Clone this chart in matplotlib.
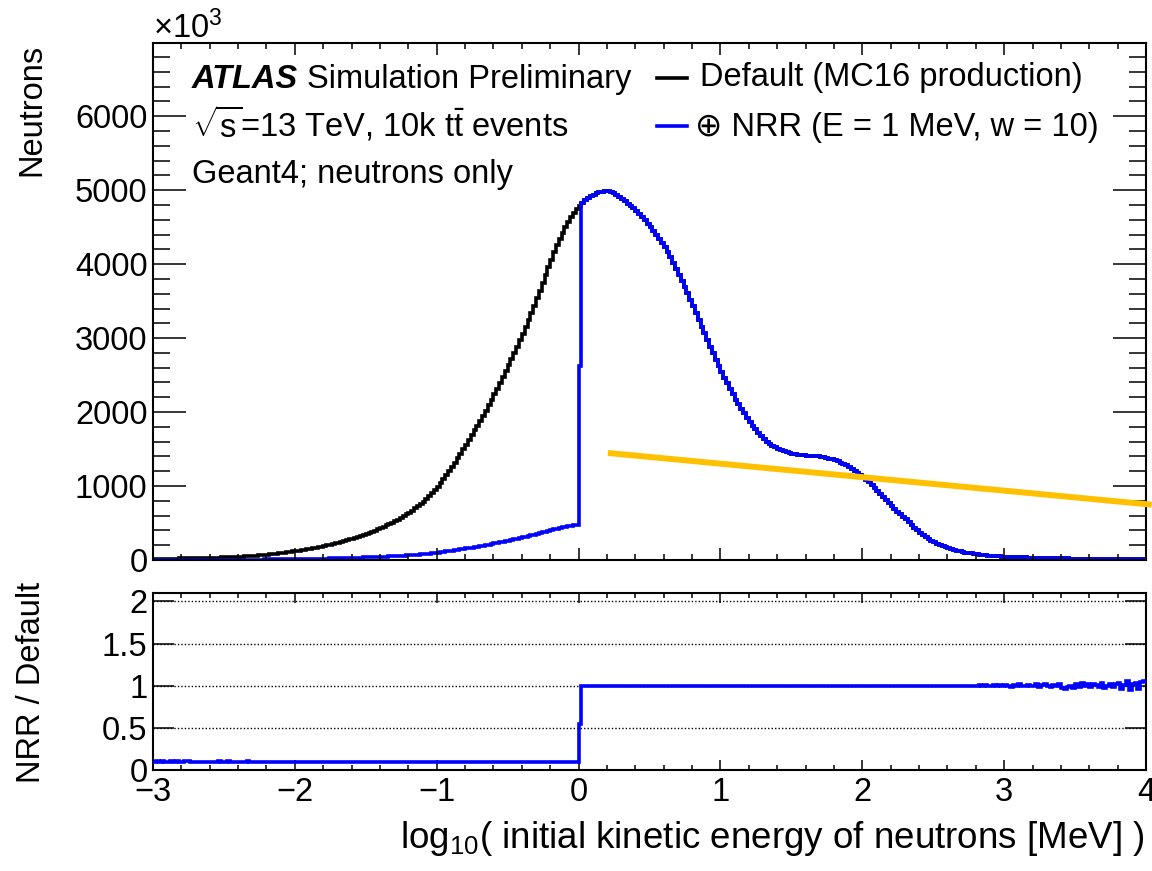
import numpy as np
import matplotlib
matplotlib.use("Agg")
import matplotlib.pyplot as plt
from matplotlib.ticker import MultipleLocator

plt.rcParams["font.family"] = ["Liberation Sans", "DejaVu Sans"]
plt.rcParams["mathtext.fontset"] = "custom"
plt.rcParams["mathtext.rm"] = "Liberation Sans"
plt.rcParams["mathtext.it"] = "Liberation Sans:italic"
plt.rcParams["mathtext.bf"] = "Liberation Sans:bold"

# binning: log10(E/MeV) from -3 to 4, 0.02 wide bins
x_lo, x_hi, n_bins = -3.0, 4.0, 350

# Default (MC16 production), counts in units of 10^3, one row per 0.2 in x
default_counts = [
    15, 15.6, 16.2, 16.8, 17.4, 18, 18.6, 19.2, 19.8, 20.4,
    21, 21.8, 22.6, 23.4, 24.2, 25, 26, 27, 28, 29,
    30, 31.2, 32.4, 33.6, 34.8, 36, 37.6, 39.2, 40.8, 42.4,
    44, 46.5, 49, 51.5, 54, 57, 60, 63.5, 67, 70.5,
    74, 78, 82, 86, 90.5, 95, 100, 105, 110, 115,
    120, 126, 132, 139, 145, 152, 159, 167, 174, 182,
    190, 199, 208, 217, 226, 236, 246, 257, 268, 279,
    290, 302, 315, 328, 341, 354, 368, 383, 398, 414,
    430, 448, 467, 486, 505, 525, 547, 569, 592, 616,
    640, 668, 697, 727, 758, 790, 826, 863, 903, 945,
    990, 1040, 1092, 1147, 1203, 1260, 1318, 1378, 1438, 1499,
    1560, 1623, 1687, 1751, 1815, 1880, 1950, 2021, 2094, 2167,
    2240, 2316, 2393, 2471, 2550, 2630, 2712, 2796, 2882, 2970,
    3060, 3152, 3246, 3342, 3440, 3540, 3643, 3747, 3851, 3956,
    4060, 4160, 4253, 4340, 4422, 4500, 4572, 4638, 4697, 4746,
    4790, 4830, 4866, 4896, 4920, 4940, 4956, 4970, 4980, 4987,
    4990, 4982, 4962, 4940, 4912, 4880, 4850, 4818, 4787, 4754,
    4720, 4680, 4638, 4594, 4548, 4500, 4450, 4398, 4344, 4288,
    4230, 4161, 4090, 4015, 3938, 3860, 3778, 3693, 3606, 3518,
    3430, 3340, 3249, 3156, 3063, 2970, 2882, 2795, 2709, 2624,
    2540, 2462, 2387, 2313, 2241, 2170, 2106, 2044, 1984, 1926,
    1870, 1818, 1768, 1720, 1674, 1630, 1601, 1573, 1548, 1525,
    1505, 1488, 1472, 1458, 1446, 1435, 1428, 1421, 1416, 1413,
    1410, 1408, 1406, 1404, 1401, 1398, 1391, 1382, 1372, 1361,
    1350, 1335, 1318, 1299, 1280, 1260, 1236, 1209, 1181, 1151,
    1120, 1086, 1050, 1012, 974, 935, 895, 854, 813, 771,
    730, 692, 655, 619, 584, 550, 512, 475, 439, 404,
    370, 340, 312, 286, 262, 240, 222, 206, 190, 176,
    162, 150, 139, 128, 118, 108, 101, 94, 88, 82,
    77, 73, 68, 64, 60, 57, 54.5, 52, 49.5, 47,
    45, 43.4, 41.8, 40.2, 38.6, 37, 35.8, 34.6, 33.4, 32.2,
    31, 30, 29, 28, 27, 26, 25.2, 24.4, 23.6, 22.8,
    22, 21.4, 20.8, 20.2, 19.6, 19, 18.5, 18, 17.5, 17,
    16.5, 16.1, 15.7, 15.3, 14.9, 14.5, 14.1, 13.7, 13.3, 12.9,
    12.5, 12.2, 11.9, 11.6, 11.3, 11, 10.7, 10.4, 10.1, 9.8,
]

# NRR (E = 1 MeV, w = 10): bins below 0 (x from -3 to 0)
nrr_below = [
    1.5, 1.6, 1.6, 1.7, 1.7, 1.8, 1.9, 1.9, 2.0, 2.0,
    2.1, 2.2, 2.3, 2.3, 2.4, 2.5, 2.6, 2.7, 2.8, 2.9,
    3.0, 3.1, 3.2, 3.4, 3.5, 3.6, 3.8, 3.9, 4.1, 4.2,
    4.4, 4.6, 4.9, 5.2, 5.4, 5.7, 6.0, 6.4, 6.7, 7.1,
    7.4, 7.8, 8.2, 8.6, 9.1, 9.5, 10.0, 10.5, 11.0, 11.5,
    12.0, 12.6, 13.2, 13.9, 14.5, 15.2, 15.9, 16.7, 17.4, 18.2,
    19.0, 19.9, 20.8, 21.7, 22.6, 23.6, 24.6, 25.7, 26.8, 27.9,
    29.0, 30.2, 31.5, 32.8, 34.1, 35.4, 36.8, 38.3, 39.8, 41.4,
    43.0, 44.8, 46.7, 48.6, 50.5, 52.5, 54.7, 56.9, 59.2, 61.6,
    64.0, 66.8, 69.7, 72.7, 75.8, 79.0, 82.6, 86.3, 90.3, 94.5,
    99, 104, 109, 115, 120, 126, 132, 138, 144, 150,
    156, 162, 169, 175, 182, 188, 195, 202, 209, 217,
    224, 232, 239, 247, 255, 263, 271, 280, 288, 297,
    306, 315, 325, 334, 344, 354, 364, 375, 385, 396,
    406, 416, 425, 434, 442, 450, 457, 464, 470, 475,
]
# first bin above threshold
nrr_first = 2619
# high-energy tail, x from 2.8 to 4
nrr_tail = [
    77, 73.4, 68, 64.6, 60, 56.7, 54.8, 52, 50.0, 47,
    45.2, 43.4, 41.4, 40.6, 38.6, 37.6, 35.6, 34.6, 33.7, 31.9,
    31, 30.45, 28.7, 28.15, 27.55, 26, 24.8, 24.65, 23.6, 23.25,
    21.45, 20.55, 20.5, 20.2, 19.0, 19.3, 18.3, 18.55, 17.5, 17.35,
    16.2, 16.4, 15.85, 15.15, 15.35, 14.05, 14.1, 13.9, 13.05, 13.2,
    12.9, 11.7, 12.0, 12.2, 10.75, 11.2, 11.1, 10.0, 10.6, 10.4,
]

orange_x = [0.207, 4.04]
orange_y = [1447, 748]

BLUE = "#0000ff"
ORANGE = "#ffc000"
FS = 23.5
LW = 2.6

edges = np.linspace(x_lo, x_hi, n_bins + 1)
default = np.array(default_counts, dtype=float)
nrr = np.concatenate([nrr_below, [nrr_first], default[151:290], nrr_tail])
ratio = nrr / default

W, H = 1152, 871
fig = plt.figure(figsize=(W / 100, H / 100), dpi=100)
ax = fig.add_axes([153 / W, 1 - 560 / H, 993 / W, 517 / H])
rax = fig.add_axes([153 / W, 1 - 770 / H, 993 / W, 177 / H])

# main panel
ax.stairs(default, edges, color="k", lw=LW, baseline=None)
ax.stairs(nrr, edges, color=BLUE, lw=LW, baseline=None)
ax.plot(orange_x, orange_y, color=ORANGE, lw=4.3, clip_on=False,
        solid_capstyle="butt", zorder=5)
ax.set_xlim(x_lo, x_hi)
ax.set_ylim(0, 6990)
ax.xaxis.set_major_locator(MultipleLocator(1))
ax.xaxis.set_minor_locator(MultipleLocator(0.2))
ax.yaxis.set_major_locator(MultipleLocator(1000))
ax.yaxis.set_minor_locator(MultipleLocator(200))
ax.tick_params(which="both", direction="in", top=True, right=True, width=1.1)
ax.tick_params(axis="x", which="major", length=8.6, labelbottom=False)
ax.tick_params(axis="x", which="minor", length=4.3)
ax.tick_params(axis="y", which="major", length=24, labelsize=FS, pad=4)
ax.tick_params(axis="y", which="minor", length=12)

ax.text(0.039, 0.9124, "ATLAS", transform=ax.transAxes, fontsize=FS,
        fontweight="bold", fontstyle="italic", va="baseline")
ax.text(0.155, 0.9124, "Simulation Preliminary", transform=ax.transAxes,
        fontsize=FS, va="baseline")
ax.text(0.039, 0.8188, r"$\sqrt{\mathrm{s}}$=13 TeV, 10k $\mathrm{t\bar{t}}$ events",
        transform=ax.transAxes, fontsize=FS, va="baseline")
ax.text(0.039, 0.7286, "Geant4; neutrons only", transform=ax.transAxes,
        fontsize=FS, va="baseline")

# legend
ax.plot([0.5071, 0.5373], [0.9329, 0.9329], color="k", lw=LW,
        transform=ax.transAxes, clip_on=False)
ax.plot([0.5071, 0.5373], [0.8395, 0.8395], color=BLUE, lw=LW,
        transform=ax.transAxes, clip_on=False)
ax.text(0.551, 0.9168, "Default (MC16 production)", transform=ax.transAxes,
        fontsize=FS, va="baseline")
ax.text(0.546, 0.8201, "\u2295 NRR (E = 1 MeV, w = 10)", transform=ax.transAxes,
        fontsize=FS, va="baseline")

# ratio panel
for yg in (0.5, 1.0, 1.5, 2.0):
    rax.axhline(yg, color="k", lw=1.0, ls=(0, (1, 1.5)), zorder=1)
rax.stairs(ratio, edges, color=BLUE, lw=LW, baseline=None, zorder=3)
rax.set_xlim(x_lo, x_hi)
rax.set_ylim(0, 2.1)
rax.xaxis.set_major_locator(MultipleLocator(1))
rax.xaxis.set_minor_locator(MultipleLocator(0.2))
rax.set_yticks([0, 0.5, 1, 1.5, 2], ["0", "0.5", "1", "1.5", "2"])
rax.tick_params(which="both", direction="in", top=True, right=True, width=1.1)
rax.tick_params(axis="x", which="major", length=7, labelsize=FS, pad=5)
rax.tick_params(axis="x", which="minor", length=3.6)
rax.tick_params(axis="y", which="major", length=15, labelsize=FS, pad=4)

for a in (ax, rax):
    for s in a.spines.values():
        s.set_linewidth(1.5)

fig.text(153 / W, 1 - 38 / H, r"$\times$10$^{3}$", fontsize=FS, ha="left",
         va="baseline")
fig.text(32 / W, 1 - 44 / H, "Neutrons", rotation=90, fontsize=FS,
         ha="center", va="top")
fig.text(32 / W, 1 - 682 / H, "NRR / Default", rotation=90, fontsize=FS,
         ha="center", va="center")
fig.text(1145 / W, 1 - 848 / H,
         r"log$_{10}$( initial kinetic energy of neutrons [MeV] )",
         fontsize=26.5, ha="right", va="baseline")

fig.savefig("out.png", dpi=100)
